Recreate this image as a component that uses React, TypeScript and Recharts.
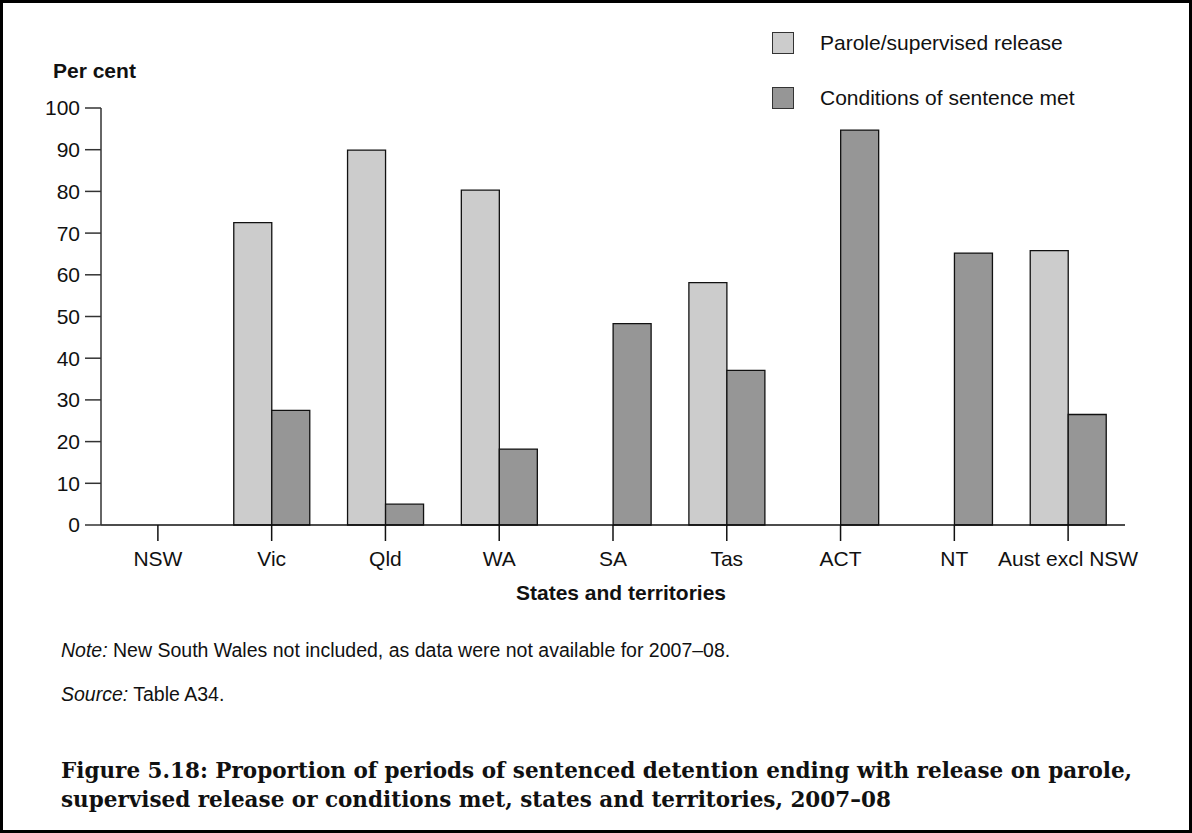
import React from "react";
import { BarChart, Bar, XAxis, YAxis } from "recharts";

const states = ["NSW", "Vic", "Qld", "WA", "SA", "Tas", "ACT", "NT", "Aust excl NSW"];
const paroleValues = [null, 72.5, 89.9, 80.3, 0, 58.1, 0, 0, 65.8];
const conditionsValues = [null, 27.5, 5.0, 18.2, 48.3, 37.1, 94.7, 65.2, 26.5];
const yTicks = [0, 10, 20, 30, 40, 50, 60, 70, 80, 90, 100];

const seriesNames = ["Parole/supervised release", "Conditions of sentence met"];
const LIGHT = "#cccccc";
const DARK = "#969696";

const data = states.map((state, i) => ({
  state,
  parole: paroleValues[i],
  conditions: conditionsValues[i],
}));

const sans = "'Liberation Sans', Arial, sans-serif";

function LegendBox() {
  const colors = [LIGHT, DARK];
  return (
    <div style={{ fontFamily: sans, fontSize: 21, color: "#111" }}>
      {seriesNames.map((name, i) => (
        <div
          key={name}
          style={{ display: "flex", alignItems: "center", height: 22, marginBottom: i === 0 ? 33 : 0 }}
        >
          <div
            style={{
              width: 20,
              height: 20,
              background: colors[i],
              border: "1.5px solid #333",
              marginRight: 26,
            }}
          />
          <span>{name}</span>
        </div>
      ))}
    </div>
  );
}

export default function App() {
  return (
    <div
      style={{
        position: "absolute",
        left: 0,
        top: 0,
        width: 1192,
        height: 833,
        boxSizing: "border-box",
        border: "3px solid #000",
        background: "#fff",
        fontFamily: sans,
      }}
    >
      <div style={{ position: "absolute", left: -3, top: -3 }}>
        <BarChart
          width={1192}
          height={620}
          data={data}
          margin={{ top: 108, right: 67, left: 41, bottom: 65 }}
          barGap={0}
          barSize={38}
        >
          <XAxis
            dataKey="state"
            height={30}
            tickSize={16}
            tickMargin={10}
            axisLine={{ stroke: "#111", strokeWidth: 1.5 }}
            tickLine={{ stroke: "#111", strokeWidth: 1.5 }}
            tick={{ fill: "#111", fontSize: 21, fontFamily: sans }}
            interval={0}
          />
          <YAxis
            width={60}
            domain={[0, 100]}
            ticks={yTicks}
            tickSize={16}
            tickMargin={5}
            axisLine={{ stroke: "#333", strokeWidth: 1.5 }}
            tickLine={{ stroke: "#333", strokeWidth: 1.5 }}
            tick={{ fill: "#111", fontSize: 21, fontFamily: sans }}
            interval={0}
          />
          <Bar
            dataKey="parole"
            name={seriesNames[0]}
            fill={LIGHT}
            stroke="#111"
            strokeWidth={1.3}
            isAnimationActive={false}
          />
          <Bar
            dataKey="conditions"
            name={seriesNames[1]}
            fill={DARK}
            stroke="#111"
            strokeWidth={1.3}
            isAnimationActive={false}
          />
        </BarChart>
      </div>

      <div style={{ position: "absolute", left: 769, top: 29 }}>
        <LegendBox />
      </div>

      <div style={{ position: "absolute", left: 50, top: 56, fontSize: 21, fontWeight: "bold", color: "#111" }}>
        Per cent
      </div>
      <div
        style={{
          position: "absolute",
          left: 410,
          width: 416,
          top: 578,
          textAlign: "center",
          fontSize: 21,
          fontWeight: "bold",
          color: "#111",
        }}
      >
        States and territories
      </div>

      <div style={{ position: "absolute", left: 58, top: 636, fontSize: 19.5, color: "#111", whiteSpace: "nowrap" }}>
        <i>Note:</i> New South Wales not included, as data were not available for 2007–08.
      </div>
      <div style={{ position: "absolute", left: 58, top: 680, fontSize: 19.5, color: "#111" }}>
        <i>Source:</i> Table A34.
      </div>

      <div
        style={{
          position: "absolute",
          left: 58,
          top: 753,
          fontFamily: "'DejaVu Serif', serif",
          fontWeight: "bold",
          fontSize: 21.5,
          lineHeight: "29px",
          color: "#111",
          whiteSpace: "nowrap",
        }}
      >
        Figure 5.18: Proportion of periods of sentenced detention ending with release on parole,
        <br />
        supervised release or conditions met, states and territories, 2007–08
      </div>
    </div>
  );
}
